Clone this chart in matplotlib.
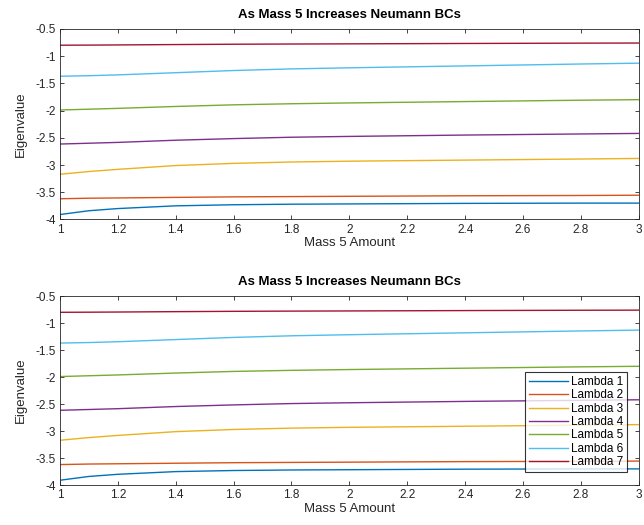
# Import libraries
import matplotlib
matplotlib.use('Agg')
import matplotlib.pyplot as plt
import numpy as np

plt.rcParams['font.family'] = ['Liberation Sans', 'DejaVu Sans']

# Mass 5 amount (x values)
mass = [1.0, 1.1, 1.2, 1.4, 1.6, 1.8, 2.0, 2.4, 2.8, 3.0]

# Eigenvalues
lambda_1 = [-3.91, -3.84, -3.80, -3.75, -3.73, -3.72, -3.715, -3.705, -3.70, -3.70]
lambda_2 = [-3.62, -3.61, -3.605, -3.595, -3.585, -3.58, -3.575, -3.565, -3.56, -3.555]
lambda_3 = [-3.17, -3.12, -3.08, -3.01, -2.97, -2.945, -2.93, -2.91, -2.89, -2.88]
lambda_4 = [-2.615, -2.60, -2.585, -2.545, -2.515, -2.49, -2.475, -2.45, -2.43, -2.42]
lambda_5 = [-1.99, -1.975, -1.96, -1.925, -1.895, -1.875, -1.86, -1.835, -1.81, -1.80]
lambda_6 = [-1.37, -1.36, -1.345, -1.305, -1.265, -1.235, -1.215, -1.18, -1.145, -1.13]
lambda_7 = [-0.80, -0.798, -0.795, -0.788, -0.782, -0.778, -0.775, -0.768, -0.762, -0.76]

labels = ['Lambda 1', 'Lambda 2', 'Lambda 3', 'Lambda 4', 'Lambda 5', 'Lambda 6', 'Lambda 7']
title = 'As Mass 5 Increases Neumann BCs'

# MATLAB default colour order
colors = [(0.000, 0.447, 0.741), (0.850, 0.325, 0.098), (0.929, 0.694, 0.125),
          (0.494, 0.184, 0.556), (0.466, 0.674, 0.188), (0.301, 0.745, 0.933),
          (0.635, 0.078, 0.184)]

series = [lambda_1, lambda_2, lambda_3, lambda_4, lambda_5, lambda_6, lambda_7]
text_color = (0.15, 0.15, 0.15)

fig = plt.figure(figsize=(6.44, 5.25), dpi=100)
ax_top = fig.add_axes([0.093, 0.582, 0.899, 0.363])
ax_bot = fig.add_axes([0.093, 0.076, 0.899, 0.360])

for ax in [ax_top, ax_bot]:
    for k in range(len(series)):
        ax.plot(mass, series[k], color=colors[k], linewidth=1.0, label=labels[k])
    ax.set_xlim(1, 3)
    ax.set_ylim(-4, -0.5)
    ax.set_xticks(np.arange(1, 3.01, 0.2))
    ax.set_xticklabels(['1', '1.2', '1.4', '1.6', '1.8', '2', '2.2', '2.4', '2.6', '2.8', '3'])
    ax.set_yticks(np.arange(-4, -0.49, 0.5))
    ax.set_yticklabels(['-4', '-3.5', '-3', '-2.5', '-2', '-1.5', '-1', '-0.5'])
    ax.tick_params(direction='in', top=True, right=True, labelsize=8.5,
                   colors=text_color, length=3, width=0.6, pad=3)
    for spine in ax.spines.values():
        spine.set_color(text_color)
        spine.set_linewidth(0.6)
    ax.set_xlabel('Mass 5 Amount', fontsize=9.5, color=text_color, labelpad=1)
    ax.set_ylabel('Eigenvalue', fontsize=9.5, color=text_color, labelpad=6)
    ax.set_title(title, fontsize=9.5, fontweight='bold', color='black', pad=8)

# Legend only on the bottom plot
leg = ax_bot.legend(loc='lower right', bbox_to_anchor=(0.98, 0.07), fontsize=8.5,
                    frameon=True, fancybox=False, edgecolor='black',
                    handlelength=3.3, labelspacing=0.12, borderpad=0.3,
                    handletextpad=0.3, borderaxespad=0.0)
leg.get_frame().set_linewidth(0.8)

fig.savefig('out.png', dpi=100)
